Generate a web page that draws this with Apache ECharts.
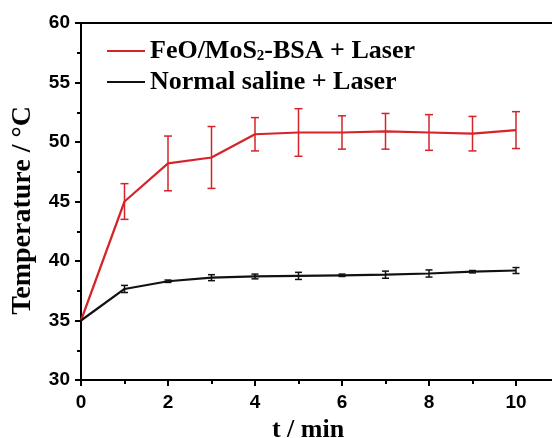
<!DOCTYPE html>
<html>
<head>
<meta charset="utf-8">
<script src="https://cdn.jsdelivr.net/npm/echarts@6/dist/echarts.min.js"></script>
<style>
  html, body { margin: 0; padding: 0; background: #ffffff; }
  #chart { width: 552px; height: 438px; }
</style>
</head>
<body>
<div id="chart"></div>
<script>
// Irradiation time (min)
const timeMin = [0, 1, 2, 3, 4, 5, 6, 7, 8, 9, 10];

// FeO/MoS2-BSA + Laser: mean temperature and error (°C)
const feoMean = [35.0, 45.0, 48.2, 48.7, 50.65, 50.8, 50.8, 50.9, 50.8, 50.7, 51.0];
const feoErr  = [0, 1.5, 2.3, 2.6, 1.4, 2.0, 1.4, 1.5, 1.5, 1.45, 1.55];

// Normal saline + Laser: mean temperature and error (°C)
const salineMean = [35.0, 37.65, 38.3, 38.6, 38.7, 38.75, 38.8, 38.85, 38.95, 39.1, 39.2];
const salineErr  = [0, 0.3, 0.1, 0.25, 0.2, 0.3, 0.1, 0.3, 0.3, 0.1, 0.25];

// Tick labels shown on each axis
const xTickLabels = [0, 2, 4, 6, 8, 10];
const yTickLabels = [30, 35, 40, 45, 50, 55, 60];

const seriesNames = ['FeO/MoS2-BSA + Laser', 'Normal saline + Laser'];

const RED = '#d6232a';
const BLACK = '#111111';
const SERIF = '"Liberation Serif", "Times New Roman", serif';
const SANS = '"Liberation Sans", Arial, sans-serif';

function pairs(ys) {
  return timeMin.map((t, i) => [t, ys[i]]);
}

function errorBars(means, errs, color, capHalf, width) {
  const data = [];
  timeMin.forEach((t, i) => {
    if (errs[i] > 0) data.push([t, means[i] - errs[i], means[i] + errs[i]]);
  });
  return {
    type: 'custom',
    xAxisIndex: 0,
    yAxisIndex: 0,
    silent: true,
    data: data,
    encode: { x: 0, y: [1, 2] },
    z: 3,
    renderItem: function (params, api) {
      const x = api.value(0);
      const lo = api.coord([x, api.value(1)]);
      const hi = api.coord([x, api.value(2)]);
      const style = { stroke: color, lineWidth: width, fill: null };
      return {
        type: 'group',
        children: [
          { type: 'line', shape: { x1: lo[0], y1: lo[1], x2: hi[0], y2: hi[1] }, style: style },
          { type: 'line', shape: { x1: lo[0] - capHalf, y1: lo[1], x2: lo[0] + capHalf, y2: lo[1] }, style: style },
          { type: 'line', shape: { x1: hi[0] - capHalf, y1: hi[1], x2: hi[0] + capHalf, y2: hi[1] }, style: style }
        ]
      };
    }
  };
}

const chart = echarts.init(document.getElementById('chart'), null, { renderer: 'canvas' });

const axisLineStyle = { color: '#000', width: 2 };

chart.setOption({
  animation: false,
  backgroundColor: '#ffffff',
  grid: {
    left: 81, top: 23, width: 522, height: 357,
    containLabel: false,
    outerBoundsMode: 'none'
  },
  legend: {
    data: seriesNames,
    orient: 'vertical',
    left: 107,
    top: 38,
    padding: 0,
    icon: 'rect',
    itemWidth: 38,
    itemHeight: 2.2,
    itemGap: 5,
    selectedMode: false,
    formatter: function (name) {
      return name.replace('MoS2', 'MoS{sub|2}');
    },
    textStyle: {
      color: '#000',
      fontFamily: SERIF,
      fontWeight: 'bold',
      fontSize: 26,
      rich: {
        sub: {
          fontFamily: SERIF,
          fontWeight: 'bold',
          fontSize: 15,
          color: '#000',
          verticalAlign: 'bottom'
        }
      }
    }
  },
  xAxis: [
    {
      type: 'value',
      position: 'bottom',
      min: 0,
      max: 12,
      interval: 2,
      name: 't / min',
      nameLocation: 'middle',
      nameGap: 32,
      nameTextStyle: {
        color: '#000', fontFamily: SERIF, fontWeight: 'bold', fontSize: 26,
        padding: [0, 68, 0, 0]
      },
      axisLine: { show: true, onZero: false, lineStyle: axisLineStyle },
      axisTick: { show: true, inside: false, length: 6, lineStyle: { color: '#000', width: 2 } },
      minorTick: { show: true, splitNumber: 2, length: 4, lineStyle: { color: '#000', width: 2 } },
      axisLabel: {
        margin: 13,
        color: '#000',
        fontFamily: SANS,
        fontWeight: 'bold',
        fontSize: 19,
        formatter: function (v) { return xTickLabels.indexOf(v) >= 0 ? String(v) : ''; }
      },
      splitLine: { show: false },
      minorSplitLine: { show: false }
    },
    {
      // frame line along the top edge of the plot
      type: 'value',
      position: 'top',
      min: 0,
      max: 12,
      axisLine: { show: true, onZero: false, lineStyle: axisLineStyle },
      axisTick: { show: false },
      axisLabel: { show: false },
      splitLine: { show: false }
    }
  ],
  yAxis: {
    type: 'value',
    min: 30,
    max: 60,
    interval: 5,
    name: 'Temperature / °C',
    nameLocation: 'middle',
    nameGap: 44,
    nameRotate: 90,
    nameTextStyle: {
      color: '#000', fontFamily: SERIF, fontWeight: 'bold', fontSize: 28,
      padding: [0, 18, 0, 0]
    },
    axisLine: { show: true, onZero: false, lineStyle: axisLineStyle },
    axisTick: { show: true, inside: false, length: 6, lineStyle: { color: '#000', width: 2 } },
    minorTick: { show: true, splitNumber: 2, length: 4, lineStyle: { color: '#000', width: 2 } },
    axisLabel: {
      margin: 11,
      color: '#000',
      fontFamily: SANS,
      fontWeight: 'bold',
      fontSize: 19,
      formatter: function (v) { return yTickLabels.indexOf(v) >= 0 ? String(v) : ''; }
    },
    splitLine: { show: false },
    minorSplitLine: { show: false }
  },
  series: [
    {
      name: seriesNames[0],
      type: 'line',
      xAxisIndex: 0,
      data: pairs(feoMean),
      symbol: 'none',
      lineStyle: { color: RED, width: 2.2 },
      itemStyle: { color: RED },
      z: 4
    },
    {
      name: seriesNames[1],
      type: 'line',
      xAxisIndex: 0,
      data: pairs(salineMean),
      symbol: 'none',
      lineStyle: { color: BLACK, width: 2.2 },
      itemStyle: { color: BLACK },
      z: 5
    },
    errorBars(feoMean, feoErr, RED, 4, 1.5),
    errorBars(salineMean, salineErr, BLACK, 3.5, 1.5)
  ]
});
</script>
</body>
</html>
